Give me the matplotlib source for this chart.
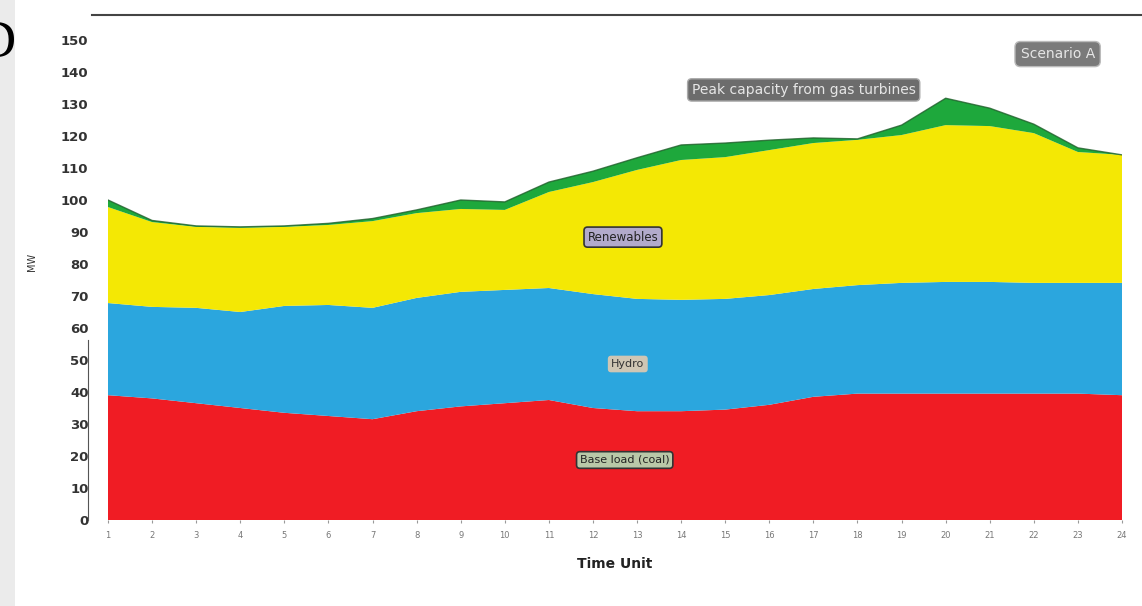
import matplotlib
matplotlib.use("Agg")
import matplotlib.pyplot as plt
from matplotlib.lines import Line2D
from matplotlib.patches import Rectangle

# Stacked generation mix over the timeline (bottom to top)
periods = list(range(24))
period_labels = [str(p + 1) for p in periods]
base_load = [39, 38, 36.5, 35, 33.5, 32.5, 31.5, 34, 35.5, 36.5, 37.5, 35,
             34, 34, 34.5, 36, 38.5, 39.5, 39.5, 39.5, 39.5, 39.5, 39.5, 39]
hydro = [28.8, 28.6, 29.8, 30, 33.4, 34.7, 34.8, 35.4, 35.8, 35.4, 35, 35.6,
         35.1, 34.8, 34.6, 34.3, 33.7, 33.9, 34.6, 34.9, 34.9, 34.6, 34.6, 35.1]
renewables = [30, 26.5, 25.3, 26.3, 24.7, 25, 27.1, 26.5, 25.9, 25, 30, 35,
              40.3, 43.7, 44.3, 45.3, 45.6, 45.4, 46.2, 49, 48.7, 46.8, 40.9, 40]
peak_reserve = [2.2, 0.5, 0.3, 0.3, 0.3, 0.5, 0.8, 1.0, 2.8, 2.5, 3.1, 3.4,
                3.8, 4.7, 4.4, 3.1, 1.6, 0.3, 3.1, 8.4, 5.6, 2.8, 1.3, 0]

series_names = ["Base load (coal)", "Hydro", "Renewables", "Peak capacity from gas turbines"]
scenario_name = "Scenario A"
y_ticks = list(range(0, 151, 10))

colors = ["#f01c24", "#2ba6de", "#f4e804", "#1ea83c"]

fig = plt.figure(figsize=(11.42, 6.06), dpi=100)
fig.patch.set_facecolor("white")

# grey strip on the left edge and the panel letter
fig.add_artist(Rectangle((0, 0), 15 / 1142, 1, transform=fig.transFigure,
                         facecolor="#ebebeb", edgecolor="none", zorder=0))
fig.text(16 / 1142, 1 - 44 / 606, "D", ha="right", va="center",
         fontsize=38, family="Liberation Serif", color="black")

# frame line across the top
fig.add_artist(Line2D([92 / 1142, 1.0], [1 - 15 / 606, 1 - 15 / 606],
                      transform=fig.transFigure, color="#444444", lw=1.5))
fig.add_artist(Line2D([88 / 1142, 88 / 1142], [1 - 340 / 606, 1 - 520 / 606],
                      transform=fig.transFigure, color="#555555", lw=0.8))

ax = fig.add_axes([108 / 1142, 1 - 520 / 606, (1122 - 108) / 1142, (520 - 40) / 606])
ax.stackplot(periods, base_load, hydro, renewables, peak_reserve,
             colors=colors, linewidth=0)

total = [a + b + c + d for a, b, c, d in zip(base_load, hydro, renewables, peak_reserve)]
ax.plot(periods, total, color="#1f5e2a", lw=1.0, alpha=0.8)

ax.set_xlim(periods[0], periods[-1])
ax.set_ylim(0, 150)
ax.set_yticks(y_ticks)
ax.set_yticklabels([str(t) for t in y_ticks], fontsize=9.5, fontweight="bold", color="#333333")
ax.tick_params(axis="y", length=0, pad=14)
ax.set_xticks(periods)
ax.set_xticklabels(period_labels, fontsize=6, color="#777777")
ax.tick_params(axis="x", length=2, color="#999999", pad=6)
for s in ax.spines.values():
    s.set_visible(False)

ax.set_xlabel("Time Unit", fontsize=10, fontweight="bold", color="#222222", labelpad=12)
ax.set_ylabel("MW", fontsize=7, color="#333333")
ax.yaxis.set_label_coords(-0.070, 0.5375)

# series labels
ax.text(11.72, 18.75, series_names[0], ha="center", va="center", fontsize=8, color="#222222",
        bbox=dict(boxstyle="round,pad=0.3", fc="#b9c8a8", ec="#333333", lw=1.2))
ax.text(11.79, 48.75, series_names[1], ha="center", va="center", fontsize=8, color="#333333",
        bbox=dict(boxstyle="round,pad=0.3", fc="#cfc6b4", ec="none"))
ax.text(11.68, 88.4, series_names[2], ha="center", va="center", fontsize=8.5, color="#222222",
        bbox=dict(boxstyle="round,pad=0.3", fc="#b2aacb", ec="#333333", lw=1.2))
ax.text(15.78, 134.4, series_names[3], ha="center", va="center", fontsize=10, color="#e6e6e6",
        bbox=dict(boxstyle="round,pad=0.3", fc="#6c6c6c", ec="#aaaaaa", lw=1))
ax.text(21.54, 145.6, scenario_name, ha="center", va="center", fontsize=10, color="#e6e6e6",
        bbox=dict(boxstyle="round,pad=0.4", fc="#7a7a7a", ec="#bbbbbb", lw=1))

fig.savefig("out.png", dpi=100, facecolor="white")
